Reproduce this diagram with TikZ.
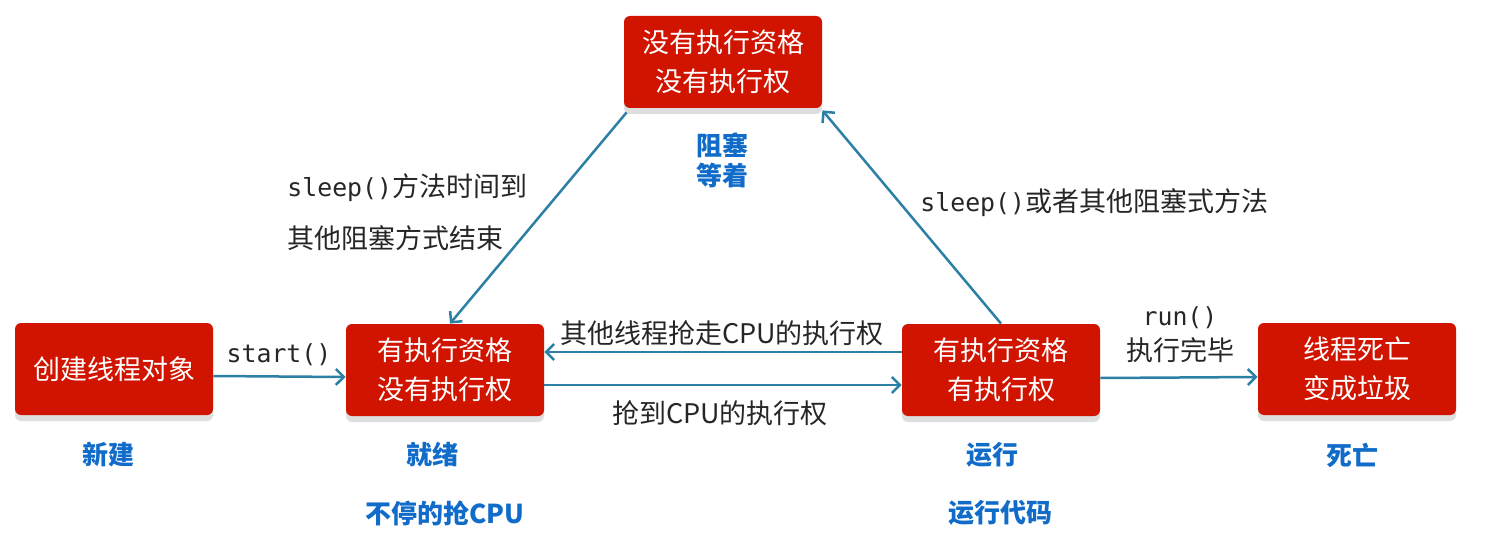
\documentclass[tikz,border=0pt]{standalone}
\usepackage{fontspec}
\setmainfont{Noto Sans CJK SC}
\newfontfamily\codefont[Scale=0.92]{DejaVu Sans Mono}
\newfontfamily\heavyfont{Noto Sans CJK SC Black}
\usetikzlibrary{arrows.meta,shadows}

\definecolor{boxred}{RGB}{208,20,0}
\definecolor{flowblue}{RGB}{44,128,165}
\definecolor{tagblue}{RGB}{16,108,200}

\begin{document}
\begin{tikzpicture}[x=0.5pt, y=-0.5pt,
  state/.style={rectangle, rounded corners=3pt, fill=boxred, text=white,
    minimum width=99pt, minimum height=46pt, align=center,
    font=\fontsize{13.5}{19.5}\selectfont,
    drop shadow={shadow xshift=0pt, shadow yshift=-3pt, fill=black!13, opacity=1}},
  tag/.style={text=tagblue, align=center, font=\fontsize{13}{15}\heavyfont},
  lbl/.style={text=black!85, font=\fontsize{13.5}{19}\selectfont},
  flow/.style={draw=flowblue, line width=1.25pt, -{Straight Barb[length=4pt,width=8pt]}},
]

  \useasboundingbox (0,0) rectangle (1492,540);

  % ────────────────────────────────────────────────────────────────────
  % thread states
  % ────────────────────────────────────────────────────────────────────
  \node[state] (create)  at (114,369)  {创建线程对象};
  \node[state] (ready)   at (445,370)  {有执行资格\\没有执行权};
  \node[state] (running) at (1001,370) {有执行资格\\有执行权};
  \node[state] (dead)    at (1357,369) {线程死亡\\变成垃圾};
  \node[state] (blocked) at (723,62)   {没有执行资格\\没有执行权};

  % state names (blue)
  \node[tag] (tnew)   at (108,455)  {新建};
  \node[tag] (tready) at (432,455)  {就绪};
  \node[tag] (tgrab)  at (445,513)  {不停的抢CPU};
  \node[tag] (trun)   at (992,455)  {运行};
  \node[tag] (tcode)  at (1000,513) {运行代码};
  \node[tag] (tdead)  at (1352,455) {死亡};
  \node[tag] (tblock) at (722,160)  {阻塞\\等着};

  % ────────────────────────────────────────────────────────────────────
  % transitions
  % ────────────────────────────────────────────────────────────────────
  \draw[flow] ([yshift=-3.5pt]create.east) -- ([yshift=-3.5pt]ready.west);
  \node[lbl] (lstart) at (279,355) {\codefont start()};

  % ready <-> running
  \draw[flow] ([yshift=9pt]running.west) -- ([yshift=9pt]ready.east);
  \node[lbl] (lsteal) at (722,333) {其他线程抢走CPU的执行权};
  \draw[flow] ([yshift=-7.5pt]ready.east) -- ([yshift=-7.5pt]running.west);
  \node[lbl] (lgrab) at (720,413) {抢到CPU的执行权};

  % running -> dead
  \draw[flow] ([yshift=-4pt]running.east) -- ([yshift=-4pt]dead.west);
  \node[lbl] (lrun)  at (1180,318) {\codefont run()};
  \node[lbl] (ldone) at (1180,350) {执行完毕};

  % blocked -> ready
  \draw[flow] ([xshift=1.5pt,yshift=-2pt]blocked.south west) -- ([xshift=2.5pt]ready.north);
  \node[lbl, anchor=west, inner sep=0pt] (lwakeA) at (287,188) {{\codefont sleep()}方法时间到};
  \node[lbl, anchor=west, inner sep=0pt] (lwakeB) at (287,238) {其他阻塞方式结束};

  % running -> blocked
  \draw[flow] (running.north) -- ([yshift=-1pt]blocked.south east);
  \node[lbl, anchor=west, inner sep=0pt] (lsleep) at (920,203) {{\codefont sleep()}或者其他阻塞式方法};

\end{tikzpicture}
\end{document}
